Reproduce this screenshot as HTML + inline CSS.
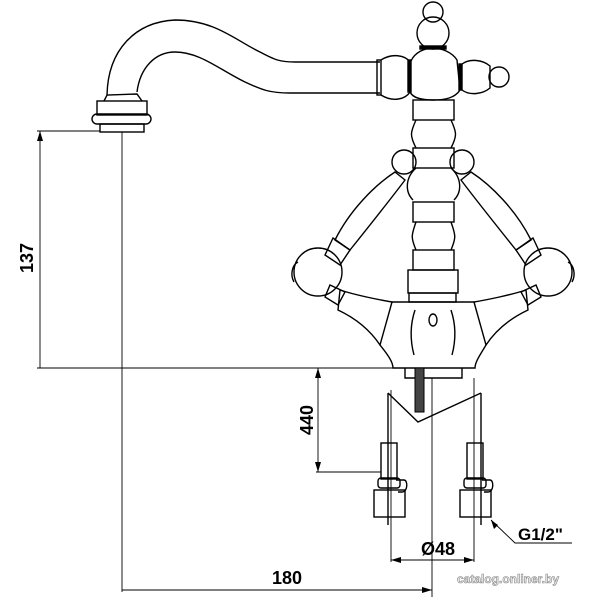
<!DOCTYPE html>
<html><head><style>body{margin:0;background:#fff}svg{display:block}</style></head><body>
<svg width="600" height="600" viewBox="0 0 600 600" xmlns="http://www.w3.org/2000/svg" font-family="Liberation Sans, sans-serif">
<g fill="none" stroke="#000" stroke-width="1.4">
<path d="M107,95 C108,50 135,22 175,20 C215,20 235,40 260,52 C275,60 280,62 295,62 L380,62"/>
<path d="M137,92 C140,68 155,52 175,52 C200,52 220,70 245,82 C262,90 270,93 290,93 L380,93"/>
<path d="M104,101 L107,95 L137,94 L142,101"/>
<rect x="97" y="101" width="50" height="14"/>
<rect x="92" y="114" width="59" height="10" rx="5"/>
<rect x="100" y="124" width="44" height="8"/>
<rect x="377" y="60" width="4" height="35"/>
<path d="M381,60 C392,53 405,55 410,62 L410,92 C405,100 392,102 381,95"/>
<rect x="408" y="60" width="3" height="32" fill="#000"/>
<path d="M411,61 C415,52 425,48 433,48 C441,48 452,52 457,60 L460,90 C455,98 445,100 433,100 C421,100 413,98 410,92"/>
<rect x="420" y="46" width="26" height="3" fill="#000"/>
<circle cx="433" cy="33" r="16"/>
<circle cx="433" cy="12" r="10"/>
<rect x="459" y="64" width="3" height="26" fill="#000"/>
<path d="M462,64 C470,58 483,60 490,66 L490,88 C483,94 470,96 462,90"/>
<circle cx="499" cy="77" r="10"/>
<rect x="413" y="100" width="41" height="20"/>
<path d="M416,120 C410,133 410,136 416,148 M451,120 C457,133 457,136 451,148"/>
<rect x="413" y="148" width="41" height="20"/>
<path d="M416,168 C405,178 405,192 413,200 M451,168 C462,178 462,192 454,200"/>
<rect x="413" y="202" width="41" height="20"/>
<path d="M416,222 C411,236 411,238 416,250 M451,222 C456,236 456,238 451,250"/>
<rect x="413" y="250" width="41" height="20"/>
<rect x="408" y="270" width="50" height="23"/>
<rect x="409" y="293" width="47" height="9"/>
<circle cx="404" cy="162" r="12"/>
<path d="M395,172 C375,185 350,210 335,240 L350,250 C370,225 390,200 405,180 Z"/>
<path d="M333,238 L350,250 L340,265 L325,255 Z"/>
<circle cx="318" cy="272" r="24"/>
<path d="M298,262 C292,265 290,275 294,282"/>
<path d="M330,285 L345,292 L338,305 L325,297 Z"/>
<path d="M340,290 C355,295 380,300 392,302 L380,345 C370,330 355,318 338,310 Z"/>
<circle cx="462" cy="162" r="12"/>
<path d="M471,172 C491,185 516,210 531,240 L516,250 C496,225 476,200 461,180 Z"/>
<path d="M533,238 L516,250 L526,265 L541,255 Z"/>
<circle cx="548" cy="272" r="24"/>
<path d="M568,262 C574,265 576,275 572,282"/>
<path d="M536,285 L521,292 L528,305 L541,297 Z"/>
<path d="M526,290 C511,295 486,300 474,302 L486,345 C496,330 511,318 528,310 Z"/>
<path d="M392,302 L474,302 M380,345 C388,355 393,362 393,368 L475,368 C475,362 480,355 486,345"/>
<path d="M415,310 C410,325 410,340 414,355 M451,310 C456,325 456,340 452,355"/>
<ellipse cx="433" cy="320" rx="4" ry="6"/>
<path d="M405,368 L405,378 L462,378 L462,368"/>
<path d="M388,393 L418,422 L481,393"/>
<path d="M388,393 L388,525 M481,393 L481,525"/>
<rect x="381" y="443" width="16" height="36"/>
<rect x="378" y="478" width="22" height="10" rx="3"/>
<path d="M396,480 L404,480 C408,480 408,492 402,492 L398,492"/>
<rect x="374" y="490" width="31" height="27"/>
<rect x="467" y="443" width="16" height="36"/>
<rect x="464" y="478" width="22" height="10" rx="3"/>
<path d="M482,480 L490,480 C494,480 494,492 488,492 L484,492"/>
<rect x="460" y="490" width="31" height="27"/>
</g>
<rect x="415" y="368" width="9" height="44" fill="#444" stroke="#000"/>
<g stroke="#000" stroke-width="0.9" fill="none">
<path d="M37,131 L100,131 M40,131 L40,368 M122,132 L122,592 M37,368 L393,368"/>
<path d="M316,472 L381,472 M318,368 L318,472"/>
<path d="M391,390 L391,562 M474,378 L474,562 M391,560 L474,560"/>
<path d="M432,378 L432,597 M122,590 L432,590"/>
<path d="M491,520 L515,543 L572,543"/>
</g>
<g fill="#000">
<path d="M40,131 l-3,10 h6z M318,368 l-3,10 h6z M318,472 l-3,-10 h6z M391,560 l10,-3 v6z M474,560 l-10,-3 v6z M432,590 l-10,-3 v6z M491,520 l3,9 l4,-4z"/>
</g>
<g font-size="18" font-weight="bold" fill="#000">
<text transform="translate(33,258) rotate(-90)" text-anchor="middle">137</text>
<text transform="translate(313,420) rotate(-90)" text-anchor="middle">440</text>
<text x="438" y="555" text-anchor="middle">Ø48</text>
<text x="287" y="584" text-anchor="middle">180</text>
<text x="518" y="540" font-size="17">G1/2"</text>
</g>
<text x="508" y="583" font-size="12" font-weight="bold" text-anchor="middle" fill="#eee" stroke="#888" stroke-width="0.6">catalog.onliner.by</text>
</svg>
</body></html>
